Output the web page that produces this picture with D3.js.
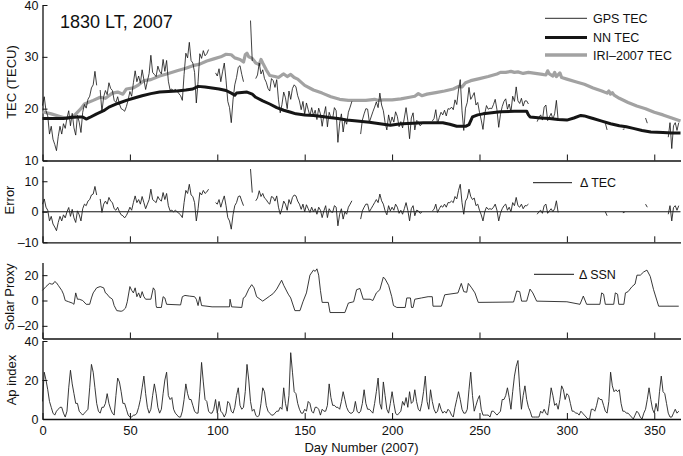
<!DOCTYPE html>
<html>
<head>
<meta charset="utf-8">
<script src="https://cdn.jsdelivr.net/npm/d3@7"></script>
<style>
  body { margin: 0; background: #fff; }
  svg text { font-family: "Liberation Sans", Arial, Helvetica, sans-serif; fill: #111; }
  .axis path, .axis line { stroke: #111; }
</style>
</head>
<body>
<svg id="chart" width="683" height="456"></svg>
<script>
// ---- data (day of year = array index for the daily series) ----
const dayTicks = [0, 50, 100, 150, 200, 250, 300, 350];

const gpsTec = [
  20.6,22.3,19.6,18.6,15.1,16.6,14.1,13.1,11.9,14.6,
  16.6,15.1,17.1,16.2,18.2,19.6,16.7,19.1,16.3,14.9,
  18.7,17.4,15.4,19.3,20.8,20.1,21.8,22.4,24.0,24.6,
  27.2,24.5,null,23.6,19.4,22.3,23.5,22.7,25.0,23.9,
  23.5,21.6,21.2,22.3,20.9,20.0,19.8,19.5,20.4,21.7,
  23.3,22.4,25.0,27.3,25.2,26.3,24.9,27.5,25.6,23.7,
  25.3,26.8,30.3,27.0,26.6,26.2,28.2,27.2,26.7,29.5,
  27.2,29.3,25.3,23.6,23.8,23.3,23.8,23.4,22.9,22.5,
  21.6,26.6,30.7,29.8,32.8,29.3,28.8,27.0,21.1,25.2,
  30.6,29.7,31.2,30.2,30.6,31.4,null,null,null,26.9,
  26.3,27.7,25.2,27.1,28.8,25.5,21.4,20.2,17.3,21.7,
  24.6,26.0,28.0,28.3,26.6,25.2,null,null,null,37.0,
  29.2,null,25.8,26.5,28.8,26.7,27.5,25.8,25.1,23.9,
  23.4,25.8,25.4,24.1,25.6,21.7,19.2,20.8,23.2,22.1,
  20.0,23.4,21.8,23.9,24.6,24.2,22.5,21.5,19.8,21.4,
  18.9,21.1,19.8,18.6,20.2,18.7,19.7,17.9,20.1,19.0,
  16.6,18.8,20.4,16.5,19.3,18.3,18.1,20.2,19.6,13.5,
  17.2,19.0,15.5,17.9,17.0,19.3,20.3,21.4,null,null,
  null,null,15.1,17.8,19.0,20.0,19.9,17.4,18.4,19.4,
  20.3,21.3,20.2,23.0,20.7,19.6,17.3,15.9,18.8,17.1,
  18.4,17.4,19.4,18.5,16.5,17.5,16.3,18.2,20.2,17.7,
  14.2,18.2,19.2,15.9,17.7,17.5,16.7,17.0,null,null,
  null,null,null,17.6,18.1,19.8,17.1,18.3,19.3,18.8,
  19.7,18.6,20.0,19.9,20.3,19.8,21.7,20.8,23.6,25.6,
  19.6,15.8,20.1,21.2,24.1,21.8,22.4,23.1,20.7,21.2,
  19.3,17.8,16.0,19.0,20.6,19.9,20.1,20.0,20.8,21.8,
  19.8,16.4,18.9,20.4,21.4,21.9,19.9,20.9,19.4,22.4,
  21.4,24.2,21.5,21.0,22.0,20.5,21.5,21.5,20.9,null,
  null,null,null,17.5,18.3,18.8,17.8,20.3,20.7,17.7,
  18.4,19.1,18.0,19.0,21.6,17.8,null,null,null,null,
  null,null,null,null,null,null,null,null,null,null,
  null,null,null,null,null,null,null,null,null,null,
  null,null,17.2,15.9,null,null,null,null,null,null,
  null,null,16.0,16.1,null,null,null,null,null,null,
  null,null,null,null,null,18.2,17.2,null,null,null,
  null,null,null,null,null,null,null,null,14.5,17.3,
  12.3,16.7,17.3,15.8,17.3
];

// NN TEC and IRI-2007 TEC: [day, TECU]
const nnTec = [
  [0,18.1],[5,18.1],[12,18.1],[16,18.3],[20,18.4],[23,18.4],[25,18.0],[27,18.3],[31,19.0],
  [35,19.6],[38,20.3],[43,21.0],[48,21.6],[53,22.1],[57,22.5],[62,22.9],[67,23.2],[72,23.3],
  [77,23.4],[82,23.6],[86,23.8],[89,24.3],[93,24.2],[97,24.0],[101,23.8],[105,23.5],[108,23.0],
  [110,22.6],[111,23.0],[114,23.1],[117,23.2],[120,22.8],[122,22.2],[126,21.5],[130,20.9],
  [134,20.2],[138,19.7],[142,19.3],[145,19.0],[150,18.8],[155,18.7],[160,18.5],[164,18.3],
  [169,18.1],[174,17.8],[180,17.6],[187,17.4],[193,17.1],[199,16.8],[203,17.0],[206,17.1],
  [212,17.2],[218,17.3],[225,17.3],[229,17.3],[233,17.0],[237,16.6],[242,16.6],[244,16.9],
  [246,18.4],[249,18.8],[252,19.0],[257,19.2],[262,19.4],[270,19.5],[277,19.5],[278,18.8],
  [279,18.4],[285,18.2],[290,18.1],[295,17.9],[300,17.8],[304,18.2],[308,18.7],[310,18.6],
  [313,18.3],[315,18.1],[320,17.6],[325,17.1],[330,16.7],[334,16.5],[338,16.2],[343,15.8],
  [348,15.5],[355,15.4],[360,15.3],[365,15.3]
];

const iriTec = [
  [0,19.4],[5,19.0],[10,18.5],[14,18.1],[18,18.6],[22,20.0],[24,20.9],[29,21.6],[33,22.2],
  [36,22.0],[40,23.0],[43,23.2],[46,22.8],[48,23.8],[52,24.0],[55,24.6],[58,25.4],[62,25.6],
  [67,26.3],[72,26.8],[77,27.3],[82,27.8],[86,28.3],[90,28.6],[94,29.2],[98,29.6],[102,30.0],
  [105,30.5],[108,30.4],[110,29.8],[113,29.5],[115,29.0],[116,30.4],[117,30.7],[118,30.0],
  [120,29.7],[122,28.8],[124,28.5],[125,29.5],[126,28.8],[128,27.5],[130,26.4],[133,26.2],
  [135,26.0],[137,26.5],[138,26.7],[140,26.2],[142,26.6],[144,26.0],[146,25.7],[150,24.5],
  [155,23.6],[160,23.0],[165,22.3],[170,21.8],[175,21.6],[180,21.6],[185,21.6],[190,21.8],
  [192,21.6],[195,21.7],[200,21.7],[205,21.9],[210,22.2],[213,22.4],[215,22.9],[217,22.5],
  [220,22.8],[225,23.1],[230,23.4],[235,23.8],[238,24.3],[240,24.2],[242,25.0],[245,25.4],
  [250,25.8],[255,26.2],[260,26.7],[262,27.0],[265,27.0],[268,27.2],[270,27.0],[272,27.1],
  [275,26.8],[278,27.0],[282,26.8],[286,26.6],[288,26.5],[289,27.3],[290,26.7],[292,26.3],
  [293,27.0],[294,26.2],[296,26.9],[297,26.0],[300,25.7],[305,25.2],[310,24.7],[315,24.0],
  [320,23.4],[323,23.0],[324,23.4],[325,22.8],[326,23.1],[327,22.6],[330,22.0],[335,21.2],
  [340,20.5],[345,20.0],[350,19.3],[355,18.8],[360,18.2],[365,17.6]
];

const deltaTec = [
  2.5,4.2,1.5,0.5,-3,-1.5,-4,-5,-6.2,-3.5,
  -1.5,-3,-1,-2,0,1.4,-1.5,0.8,-2,-3.5,
  0.3,-1,-3,1,2.5,2,3.5,4,5.5,5.8,
  8.3,5.5,null,4.2,-0.2,2.5,3.5,2.5,4.7,3.5,
  3,1,0.5,1.5,0,-1,-1.3,-2,-1.2,0,
  1.5,0.5,3,5.2,3,4,2.5,5,3,1,
  2.5,4,7.4,4,3.5,3,5,4,3.5,6.3,
  4,6,2,0.3,0.5,0,0.5,0,-0.5,-1,
  -1.9,3,7,6,9,5.5,5,3,-3,1,
  6.3,5.5,7,6,6.5,7.4,null,null,null,3,
  2.5,4,1.5,3.5,5.2,2,-1.9,-3,-5.7,-1,
  2,3,5,5.2,3.5,2,null,null,null,14,
  6.3,null,3.6,4.5,6.9,5,6,4.5,4,3,
  2.5,5,4.7,3.5,5.2,1.5,-0.8,1,3.5,2.5,
  0.5,4,2.5,4.7,5.5,5.2,3.5,2.5,0.8,2.5,
  0,2.3,1,-0.2,1.5,0,1,-0.8,1.5,0.5,
  -1.9,0.3,2,-1.9,1,0,-0.2,2,1.5,-4.6,
  -0.8,1,-2.4,0,-0.8,1.5,2.5,3.6,null,null,
  null,null,-2.4,0.3,1.5,2.5,2.5,0,1,2,
  3,4,3,5.8,3.6,2.5,0.3,-1,2,0.3,
  1.5,0.5,2.5,1.5,-0.5,0.5,-0.8,1,3,0.5,
  -3,1,2,-1.3,0.5,0.3,-0.5,-0.2,null,null,
  null,null,null,0.3,0.8,2.5,-0.2,1,2,1.5,
  2.5,1.5,3,3,3.5,3,5,4.2,7,9,
  3,-0.8,3.5,4.5,7.4,5,4,4.5,2,2.5,
  0.5,-1,-3,0,1.5,0.8,1,0.8,1.5,2.5,
  0.5,-3,-0.5,1,2,2.5,0.5,1.5,0,3,
  2,4.7,2,1.5,2.5,1,2,2,2.5,null,
  null,null,null,-0.8,0,0.5,-0.5,2,2.5,-0.5,
  0.3,1,0,1,3.6,-0.2,null,null,null,null,
  null,null,null,null,null,null,null,null,null,null,
  null,null,null,null,null,null,null,null,null,null,
  null,null,0,-1.3,null,null,null,null,null,null,
  null,null,-0.3,-0.2,null,null,null,null,null,null,
  null,null,null,null,null,2.5,1.5,null,null,null,
  null,null,null,null,null,null,null,null,-0.8,2,
  -3,1.4,2,0.5,2
];

// Solar proxy (delta SSN): [day, value]
const deltaSsn = [
  [0,8],[2,11],[4,13.5],[5,13],[6,13],[7,15],[8,14],[9,12],[11,8],[12,5],[13,0],[15,-1],
  [17,-2],[18,-3],[19,6],[20,1],[21,1],[23,0],[25,-3],[27,-3],[28,2],[29,6],[31,10],[33,11],
  [35,10],[36,6],[37,5],[38,3],[40,1],[41,-4],[42.5,-8],[45,-8.5],[46,-8],[47.5,-6],[48.5,-1],
  [50,11],[51,8],[52,6],[53,10],[54,3],[55,6],[56,2],[57,7],[58,3],[59,1],[62,1],[63.4,10],
  [64.3,8],[65,-4],[65.3,-5.5],[68,-5.5],[69,3],[70,2],[71,-3],[79,-3.5],[80,3],[81.5,4],
  [84,3.5],[87,3],[88,1],[89,-4],[90,3],[91,-4],[97,-5],[107,-5],[107.3,1],[108.2,-5],
  [114,-5.5],[114.9,2],[116,3],[118,9],[119.7,12.5],[121,10],[122.5,3],[126,-0.5],[130,3.5],
  [132,5.5],[134,9],[136.8,16],[138,12],[140.6,5],[142,2],[144.4,-8],[147.3,-8],[149,-1],
  [151,6],[153,20],[155,24],[156,23],[157,25],[158,20],[159,8],[160,-1.5],[163.5,-1.5],
  [164.5,-9.5],[173,-9.5],[175,-2],[178,-1],[179.7,8.5],[181.6,9.5],[183.5,1],[187.4,1],
  [189,0],[191,6],[193,8.5],[195,18.5],[196,17],[198,12],[199.8,3],[200.8,-4],[202.7,-5.5],
  [207.5,-5.5],[208.4,2],[210.5,2],[211.1,-5.5],[212,-5.5],[213,1],[216.8,2],[220.6,3],
  [223,3],[223.4,-4.5],[228.2,-4.5],[230.1,4.5],[237.7,6],[239.6,13.5],[241,7],[242.7,6.5],
  [243.6,13.5],[245.5,10],[247.4,6],[249.3,-1.5],[269.5,-1.2],[271.3,7.5],[273,7],[274.1,-0.5],
  [277,-0.5],[278.9,9],[280.5,6],[282.7,-0.5],[300,-1],[307.5,-3],[309.4,3.5],[311.3,-3],
  [318.9,-3],[319.9,6],[321,5],[322,-3],[326.8,-3],[327.7,6],[329,5],[329.7,-3],[332.6,-3],
  [333.5,6],[335,7],[337.3,11],[339,13],[340.1,20],[342,20],[343.9,22.5],[345.8,24],
  [347.7,19],[349.6,8.5],[352.5,-4.5],[364,-4.5]
];

const apIndex = [
  9,24,20,15,9,6,3,2,4,5,
  6,6,3,1,4,16,25,18,13,8,
  8,4,3,2,3,4,5,16,28,24,
  16,8,4,3,6,6,8,13,8,5,
  3,2,12,21,19,14,8,8,5,2,
  1,1,2,2,3,6,10,16,22,13,
  6,3,5,12,18,13,6,3,5,13,
  20,24,12,10,11,5,3,2,1,1,
  4,10,18,13,10,10,7,4,3,3,
  14,29,19,10,9,4,3,3,5,10,
  3,9,4,3,1,3,9,8,4,3,
  6,12,16,7,5,6,14,28,20,9,
  4,5,2,1,2,8,16,14,7,4,
  3,2,2,3,4,4,6,5,16,8,
  4,12,34,24,14,13,8,5,3,3,
  5,4,9,8,4,3,6,6,5,2,
  5,4,4,7,18,11,7,7,6,6,
  5,9,14,10,6,4,3,3,4,9,
  4,3,4,8,15,8,5,5,4,3,
  8,14,21,8,5,19,12,5,3,8,
  14,8,3,2,3,4,9,7,11,6,
  14,8,9,15,9,5,4,8,14,22,
  9,5,15,9,5,3,4,8,5,3,
  4,3,5,4,2,1,6,10,14,10,
  5,3,3,5,15,24,12,4,7,10,
  12,5,2,2,2,2,1,4,4,3,
  2,3,4,10,10,12,16,11,5,14,
  22,27,30,16,5,12,17,10,6,4,
  1,1,1,1,1,4,3,5,3,2,
  8,16,12,7,8,5,10,17,15,10,
  13,12,8,4,4,3,3,2,4,3,
  2,1,0,0,5,5,4,7,11,10,
  10,7,4,3,9,24,17,14,15,14,
  15,8,4,4,3,3,2,1,0,2,
  4,3,1,0,3,5,10,16,10,5,
  3,8,4,14,22,14,13,8,3,1,
  1,3,5,3,4
];

const tecLegend = ['GPS TEC', 'NN TEC', 'IRI\u20132007 TEC'];

// ---- layout ----
const svg = d3.select('#chart');
const x = d3.scaleLinear().domain([0, 365]).range([42.5, 680.5]);

const panels = [
  { id: 'tec', domain: [10, 40], range: [160.5, 5], ticks: [10, 20, 30, 40], label: 'TEC (TECU)', lx: 11, ly: 82 },
  { id: 'err', domain: [-10, 15], range: [242.3, 166], ticks: [-10, 0, 10], label: 'Error', lx: 9, ly: 200 },
  { id: 'ssn', domain: [-30, 30], range: [338.5, 262.5], ticks: [-20, 0, 20], label: 'Solar Proxy', lx: 9, ly: 297 },
  { id: 'ap', domain: [0, 40], range: [419, 341], ticks: [0, 20, 40], label: 'Ap index', lx: 11, ly: 380 }
];
panels.forEach(p => { p.y = d3.scaleLinear().domain(p.domain).range(p.range); });

const fmt = d => d < 0 ? '\u2013' + Math.abs(d) : String(d);

panels.forEach((p, i) => {
  const last = i === panels.length - 1;

  const gx = svg.append('g')
    .attr('class', 'axis')
    .attr('transform', `translate(0,${p.range[0]})`)
    .call(d3.axisBottom(x).tickValues(dayTicks).tickSizeInner(-6).tickSizeOuter(0)
      .tickPadding(7).tickFormat(last ? d => d : () => ''));
  gx.select('.domain').attr('stroke-width', 1.3);
  gx.selectAll('text').attr('font-size', 13);

  const gy = svg.append('g')
    .attr('class', 'axis')
    .attr('transform', `translate(${x(0)},0)`)
    .call(d3.axisLeft(p.y).tickValues(p.ticks).tickSizeInner(-5).tickSizeOuter(0)
      .tickPadding(4).tickFormat(fmt));
  gy.select('.domain').attr('stroke-width', 1.3);
  gy.selectAll('text').attr('font-size', 12.5);

  svg.append('text')
    .attr('transform', `translate(${p.lx},${p.ly}) rotate(-90)`)
    .attr('text-anchor', 'middle')
    .attr('dominant-baseline', 'central')
    .attr('font-size', 13)
    .text(p.label);
});

const [pTec, pErr, pSsn, pAp] = panels;

// ---- TEC panel ----
const pairLine = y => d3.line().x(d => x(d[0])).y(d => y(d[1]));
const dailyLine = y => d3.line().defined(d => d != null).x((d, i) => x(i)).y(d => y(d));

svg.append('path').datum(iriTec)
  .attr('d', pairLine(pTec.y))
  .attr('fill', 'none').attr('stroke', '#a2a2a2').attr('stroke-width', 3.2)
  .attr('stroke-linejoin', 'round');

svg.append('path').datum(gpsTec)
  .attr('d', dailyLine(pTec.y))
  .attr('fill', 'none').attr('stroke', '#111').attr('stroke-width', 0.8);

svg.append('path').datum(nnTec)
  .attr('d', pairLine(pTec.y))
  .attr('fill', 'none').attr('stroke', '#151515').attr('stroke-width', 3)
  .attr('stroke-linejoin', 'round');

svg.append('text')
  .attr('x', 60).attr('y', 27.5)
  .attr('font-size', 18)
  .text('1830 LT, 2007');

const legStyles = [
  { stroke: '#111', width: 0.9 },
  { stroke: '#151515', width: 3 },
  { stroke: '#a2a2a2', width: 3.5 }
];
const legRows = [18.3, 37.5, 55];
tecLegend.forEach((t, i) => {
  svg.append('line')
    .attr('x1', 545).attr('x2', 587)
    .attr('y1', legRows[i]).attr('y2', legRows[i])
    .attr('stroke', legStyles[i].stroke).attr('stroke-width', legStyles[i].width);
  svg.append('text')
    .attr('x', 593).attr('y', legRows[i] + 4.6)
    .attr('font-size', 12.5)
    .text(t);
});

// ---- Error panel ----
svg.append('line')
  .attr('x1', x(0)).attr('x2', x(365))
  .attr('y1', pErr.y(0)).attr('y2', pErr.y(0))
  .attr('stroke', '#111').attr('stroke-width', 1);

svg.append('path').datum(deltaTec)
  .attr('d', dailyLine(pErr.y))
  .attr('fill', 'none').attr('stroke', '#222').attr('stroke-width', 0.9);

svg.append('line')
  .attr('x1', 533).attr('x2', 572).attr('y1', 182.7).attr('y2', 182.7)
  .attr('stroke', '#111').attr('stroke-width', 1);
svg.append('text')
  .attr('x', 580).attr('y', 187.3)
  .attr('font-size', 12.5)
  .text('\u0394 TEC');

// ---- Solar proxy panel ----
svg.append('path').datum(deltaSsn)
  .attr('d', pairLine(pSsn.y))
  .attr('fill', 'none').attr('stroke', '#222').attr('stroke-width', 0.9);

svg.append('line')
  .attr('x1', 534).attr('x2', 574).attr('y1', 274.3).attr('y2', 274.3)
  .attr('stroke', '#111').attr('stroke-width', 1);
svg.append('text')
  .attr('x', 579).attr('y', 278.9)
  .attr('font-size', 12.5)
  .text('\u0394 SSN');

// ---- Ap panel ----
svg.append('path').datum(apIndex)
  .attr('d', dailyLine(pAp.y))
  .attr('fill', 'none').attr('stroke', '#222').attr('stroke-width', 0.9);

svg.append('text')
  .attr('x', x(182.5)).attr('y', 451.5)
  .attr('text-anchor', 'middle')
  .attr('font-size', 13)
  .text('Day Number (2007)');
</script>
</body>
</html>
